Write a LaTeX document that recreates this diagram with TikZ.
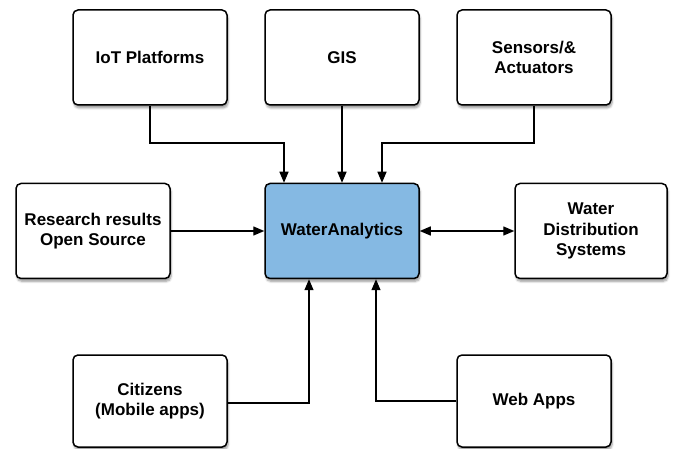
\documentclass[tikz,border=0pt]{standalone}
\usepackage{fontspec}
\setmainfont{Liberation Sans}
\usetikzlibrary{arrows.meta,shadows.blur,calc}
\definecolor{wablue}{RGB}{133,185,227}
\tikzset{
  box/.style={draw=black, line width=1.5pt, rounded corners=5pt, fill=white,
    minimum width=154pt, minimum height=95pt, align=center, inner sep=2pt,
    font=\fontsize{17}{20.5}\selectfont\bfseries,
    blur shadow={shadow xshift=1pt, shadow yshift=-3pt, shadow blur steps=6, shadow opacity=40}},
  arr/.style={line width=1.4pt, -{Triangle[length=11pt,width=9pt]}},
  darr/.style={line width=1.4pt, {Triangle[length=11pt,width=9pt]}-{Triangle[length=11pt,width=9pt]}}
}
\begin{document}
\begin{tikzpicture}[x=1pt,y=-1pt]
\useasboundingbox (0,0) rectangle (675,449);
\node[box] (iot) at (150,57.5) {IoT Platforms};
\node[box] (gis) at (342,57.5) {GIS};
\node[box] (sen) at (534,57.5) {Sensors/\&\\Actuators};
\node[box] (res) at (93,231) {Research results\\Open Source};
\node[box, fill=wablue] (wa) at (342,231) {WaterAnalytics};
\node[box, minimum width=152pt] (wds) at (591,231) {Water\\Distribution\\Systems};
\node[box, minimum height=92pt] (cit) at (150,401) {Citizens\\(Mobile apps)};
\node[box, minimum height=92pt] (web) at (534,401) {Web Apps};
\coordinate (j1) at (284,143);
\coordinate (j2) at (382,143);
\coordinate (c1) at ($(wa.south)+(-33,0)$);
\coordinate (c2) at ($(wa.south)+(34,0)$);
\draw[arr] (iot.south) |- (j1) -- (j1 |- wa.north);
\draw[arr] (gis) -- (wa);
\draw[arr] (sen.south) |- (j2) -- (j2 |- wa.north);
\draw[arr] (res) -- (wa);
\draw[darr] (wa) -- (wds);
\draw[arr] ([yshift=-2pt]cit.east) -| (c1);
\draw[arr] (web.west) -| (c2);
\end{tikzpicture}
\end{document}
